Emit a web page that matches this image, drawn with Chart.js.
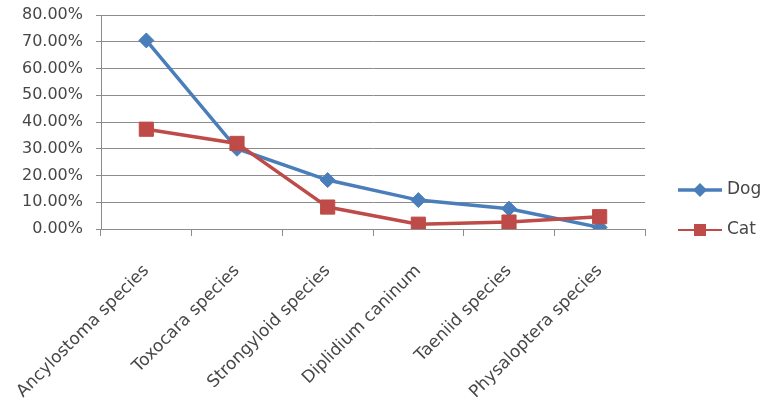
<!DOCTYPE html>
<html>
<head>
<meta charset="utf-8">
<script src="https://cdn.jsdelivr.net/npm/chart.js@4/dist/chart.umd.min.js"></script>
<style>
  html, body { margin: 0; padding: 0; background: #ffffff; }
  #wrap { width: 764px; height: 402px; }
</style>
</head>
<body>
<div id="wrap"><canvas id="c" width="764" height="402"></canvas></div>
<script>
// Prevalence of intestinal parasites (% of animals positive)
const categories = [
  'Ancylostoma species',
  'Toxocara species',
  'Strongyloid species',
  'Diplidium caninum',
  'Taeniid species',
  'Physaloptera species'
];
const dogValues = [70.5, 30.0, 18.3, 10.8, 7.6, 0.6];
const catValues = [37.3, 32.0, 8.2, 1.8, 2.6, 4.6];
const yTicks = [0, 10, 20, 30, 40, 50, 60, 70, 80];

const DOG = '#4a7ebb';
const CAT = '#be4b48';
const TEXT = '#474747';
const GRID = '#8c8c8c';
const FONT = 'DejaVu Sans';

// Legend on the right: a short line with the series marker, then the name
const sideLegend = {
  id: 'sideLegend',
  afterDraw(chart) {
    const ctx = chart.ctx;
    const items = [
      { ds: chart.data.datasets[0], y: 190, lw: 3.5, shape: 'diamond', r: 7 },
      { ds: chart.data.datasets[1], y: 230, lw: 2, shape: 'square', r: 6 }
    ];
    ctx.save();
    items.forEach(it => {
      const c = it.ds.borderColor;
      ctx.strokeStyle = c;
      ctx.fillStyle = c;
      ctx.lineWidth = it.lw;
      ctx.beginPath();
      ctx.moveTo(678, it.y);
      ctx.lineTo(722, it.y);
      ctx.stroke();
      ctx.beginPath();
      if (it.shape === 'diamond') {
        ctx.moveTo(700, it.y - it.r);
        ctx.lineTo(700 + it.r, it.y);
        ctx.lineTo(700, it.y + it.r);
        ctx.lineTo(700 - it.r, it.y);
        ctx.closePath();
      } else {
        ctx.rect(700 - it.r, it.y - it.r, it.r * 2, it.r * 2);
      }
      ctx.fill();
      ctx.fillStyle = TEXT;
      ctx.font = '17px "' + FONT + '"';
      ctx.textAlign = 'left';
      ctx.textBaseline = 'middle';
      ctx.fillText(it.ds.label, 727, it.y);
    });
    ctx.restore();
  }
};

new Chart(document.getElementById('c'), {
  type: 'line',
  data: {
    labels: categories,
    datasets: [
      {
        label: 'Dog',
        data: dogValues,
        order: 1,
        borderColor: DOG,
        backgroundColor: DOG,
        borderWidth: 3.5,
        pointStyle: 'rectRot',
        pointRadius: 7.5,
        pointBorderWidth: 1,
        tension: 0
      },
      {
        label: 'Cat',
        data: catValues,
        order: 0,
        borderColor: CAT,
        backgroundColor: CAT,
        borderWidth: 3.5,
        pointStyle: 'rect',
        pointRadius: 10,
        pointBorderWidth: 1,
        tension: 0
      }
    ]
  },
  options: {
    responsive: false,
    animation: false,
    layout: { padding: { top: 15, right: 119, bottom: 0, left: 0 } },
    plugins: {
      legend: { display: false },
      tooltip: { enabled: false }
    },
    scales: {
      x: {
        offset: true,
        grid: {
          offset: true,
          drawOnChartArea: false,
          drawTicks: true,
          tickLength: 7,
          color: GRID
        },
        border: { color: GRID, width: 1 },
        ticks: {
          autoSkip: false,
          minRotation: 45,
          maxRotation: 45,
          padding: 25,
          color: TEXT,
          font: { family: FONT, size: 17 }
        },
        afterFit(scale) {
          scale.height = 173;
          scale.paddingLeft = 0;
          scale.paddingRight = 0;
        }
      },
      y: {
        min: 0,
        max: 80,
        afterBuildTicks(scale) { scale.ticks = yTicks.map(v => ({ value: v })); },
        grid: {
          color: GRID,
          lineWidth: 1,
          drawTicks: true,
          tickLength: 5
        },
        border: { color: GRID, width: 1 },
        ticks: {
          padding: 13,
          color: TEXT,
          font: { family: FONT, size: 16 },
          callback: v => v.toFixed(2) + '%'
        },
        afterFit(scale) {
          scale.width = 101;
          scale.paddingTop = 0;
          scale.paddingBottom = 0;
        }
      }
    }
  },
  plugins: [sideLegend]
});
</script>
</body>
</html>
